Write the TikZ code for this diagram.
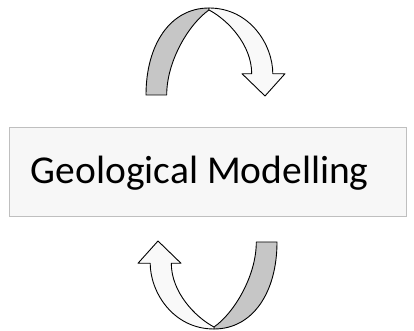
\documentclass[tikz,border=0pt]{standalone}
\usepackage{fontspec}
\setmainfont{Carlito}
\definecolor{backgray}{HTML}{C6C6C6}
\definecolor{frontwhite}{HTML}{F9F9F9}
\definecolor{boxfill}{HTML}{F7F7F7}
\definecolor{boxline}{HTML}{BFBFBF}
\begin{document}
\begin{tikzpicture}[x=1pt,y=1pt,
  ribbon/.style={draw=black,line width=0.9pt,line join=round},
  backface/.style={ribbon,fill=backgray},
  frontface/.style={ribbon,fill=frontwhite},
  label/.style={font=\fontsize{39.5}{42}\selectfont,inner sep=0pt,anchor=base west}]
\useasboundingbox (0,0) rectangle (414,331);
% box
\node[draw=boxline,fill=boxfill,line width=0.9pt,minimum width=397.4pt,minimum height=88.7pt,inner sep=0pt] (box) at (208,159.3) {};
\node[label] (title) at (30.7,147) {Geological Modelling};
% curved arrow
\newcommand{\curvedarrow}{%
  \draw[backface] (146,236) .. controls (146,286) and (170,323) .. (209,323)
     -- (209,321) .. controls (190,308) and (166.7,271) .. (166.7,236) -- cycle;
  \draw[frontface] (209,323) .. controls (250,323) and (272.8,286) .. (272.8,257.28)
     -- (285,257.28) -- (265,235) -- (242,257.28) -- (251.7,257.28)
     .. controls (251.7,286) and (228,311) .. (209,321) -- cycle;
}
\curvedarrow
\begin{scope}[rotate around={180:(211.5,162.5)}]
\curvedarrow
\end{scope}
\end{tikzpicture}
\end{document}
